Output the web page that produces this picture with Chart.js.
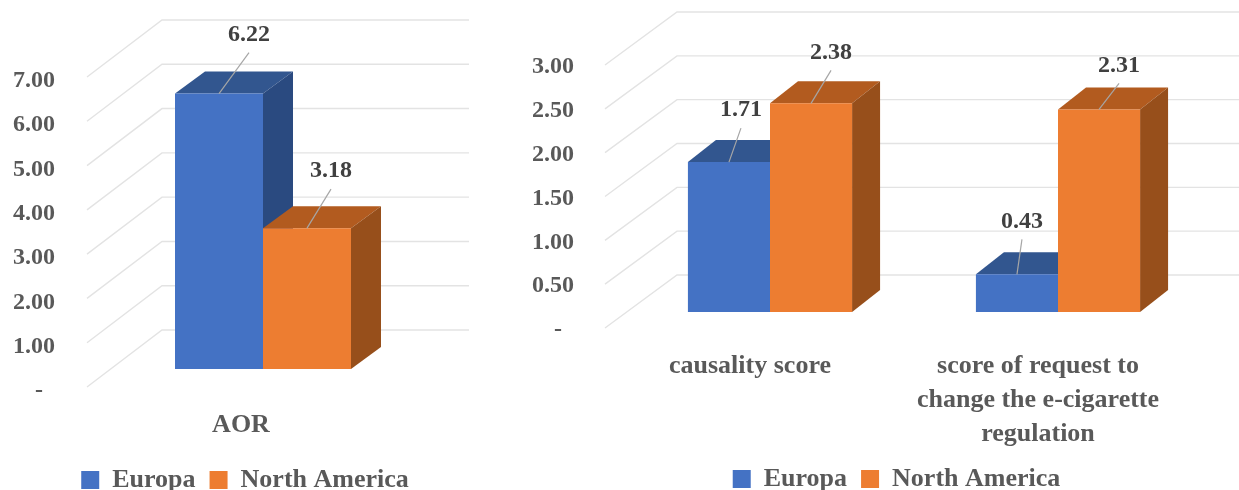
<!DOCTYPE html>
<html>
<head>
<meta charset="utf-8">
<title>AOR and scores by region</title>
<script src="https://cdn.jsdelivr.net/npm/chart.js@4"></script>
<style>
  html, body { margin: 0; background: #fff; overflow: hidden; }
  #wrap { position: relative; width: 1239px; height: 490px; overflow: hidden; }
  canvas { position: absolute; top: 0; filter: blur(0.4px); }
  #chartAor { left: 0; }
  #chartScore { left: 520px; }
</style>
</head>
<body>
<div id="wrap">
  <canvas id="chartAor" width="490" height="490"></canvas>
  <canvas id="chartScore" width="719" height="490"></canvas>
</div>
<script>
// datos
const seriesNames = ['Europa', 'North America'];

const aorLabels  = ['AOR'];
const aorEuropa  = [6.22];
const aorAmerica = [3.18];
const aorTicks   = [0, 1, 2, 3, 4, 5, 6, 7];

const scoreLabels  = ['causality score', ['score of request to', 'change the e-cigarette', 'regulation']];
const scoreEuropa  = [1.71, 0.43];
const scoreAmerica = [2.38, 2.31];
const scoreTicks   = [0, 0.5, 1, 1.5, 2, 2.5, 3];

const colores = ['#4472C4', '#ED7D31'];
const coloresTop  = ['#32568F', '#B25B1F'];
const coloresSide = ['#2A4A80', '#974F1B'];
const FONT = '"Liberation Serif", serif';
const TXT = '#595959';
const PAD_BOTTOM = -60; // deja sitio a las etiquetas del eje, la leyenda se coloca aparte

// cara superior y lateral de cada barra, y lineas de fondo
const plugin3D = {
  id: 'falso3d',
  afterLayout(chart) {
    const o = chart.options.plugins.falso3d;
    const lg = chart.legend;
    lg.left += o.legendShift; lg.right += o.legendShift;
    const h = lg.bottom - lg.top;
    lg.top = o.legendTop; lg.bottom = o.legendTop + h;
  },
  beforeDatasetsDraw(chart) {
    const o = chart.options.plugins.falso3d;
    const { ctx, chartArea: area, scales: { y } } = chart;
    ctx.save();
    // rejilla
    ctx.strokeStyle = '#E3E3E3';
    ctx.lineWidth = 1.4;
    y.ticks.forEach(t => {
      const yF = y.getPixelForValue(t.value) + o.floorDy;
      ctx.beginPath();
      ctx.moveTo(area.left + o.gridX0, yF);
      ctx.lineTo(area.left + o.gridX0 + o.gridDx, yF - o.gridDy);
      ctx.lineTo(o.gridEnd, yF - o.gridDy);
      ctx.stroke();
    });
    // caras, Europa primero para que North America quede encima
    chart.data.datasets.forEach((ds, i) => {
      chart.getDatasetMeta(i).data.forEach(b => {
        const l = b.x - b.width / 2, r = b.x + b.width / 2;
        ctx.fillStyle = coloresTop[i];
        ctx.beginPath();
        ctx.moveTo(l, b.y);
        ctx.lineTo(l + o.barDx, b.y - o.barDy);
        ctx.lineTo(r + o.barDx, b.y - o.barDy);
        ctx.lineTo(r, b.y);
        ctx.closePath();
        ctx.fill();
        ctx.fillStyle = coloresSide[i];
        ctx.beginPath();
        ctx.moveTo(r, b.y);
        ctx.lineTo(r + o.barDx, b.y - o.barDy);
        ctx.lineTo(r + o.barDx, b.base - o.barDy);
        ctx.lineTo(r, b.base);
        ctx.closePath();
        ctx.fill();
      });
    });
    ctx.restore();
  },
  afterDatasetsDraw(chart) {
    const o = chart.options.plugins.falso3d;
    const { ctx } = chart;
    ctx.save();
    ctx.font = 'bold 24px ' + FONT;
    ctx.textAlign = 'center';
    ctx.textBaseline = 'middle';
    chart.data.datasets.forEach((ds, i) => {
      chart.getDatasetMeta(i).data.forEach((b, j) => {
        const [dx, dy] = o.labelOffsets[i][j];
        ctx.strokeStyle = '#A6A6A6';
        ctx.lineWidth = 1.2;
        ctx.beginPath();
        ctx.moveTo(b.x, b.y);
        ctx.lineTo(b.x + dx, b.y + dy + 18);
        ctx.stroke();
        ctx.fillStyle = '#404040';
        ctx.fillText(ds.data[j].toFixed(2), b.x + dx, b.y + dy);
      });
    });
    ctx.restore();
  }
};

function graficaBarras3D(id, labels, europa, america, tickVals, c) {
  return new Chart(document.getElementById(id), {
    type: 'bar',
    data: {
      labels,
      datasets: [
        { label: seriesNames[0], data: europa, backgroundColor: colores[0] },
        { label: seriesNames[1], data: america, backgroundColor: colores[1] }
      ]
    },
    plugins: [plugin3D],
    options: {
      responsive: false,
      animation: false,
      layout: { padding: { left: c.padLeft, right: c.padRight, top: c.top, bottom: PAD_BOTTOM } },
      scales: {
        x: {
          offset: true,
          grid: { display: false },
          border: { display: false },
          ticks: {
            autoSkip: false, maxRotation: 0, minRotation: 0,
            padding: c.xPad, labelOffset: c.xLabelOffset, color: TXT,
            font: { family: FONT, size: 26, weight: 'bold', lineHeight: c.lineH }
          },
          afterFit(s) {
            s.paddingLeft = 0; s.paddingRight = 0; s.paddingTop = 0; s.paddingBottom = 0;
            s.height = 490 - PAD_BOTTOM - c.base - s.chart.legend.height;
          }
        },
        y: {
          min: 0,
          max: tickVals[tickVals.length - 1],
          grid: { display: false, drawTicks: false },
          border: { display: false },
          afterBuildTicks(s) { s.ticks = tickVals.map(v => ({ value: v })); },
          afterFit(s) { s.width = c.yWidth; s.paddingTop = 0; s.paddingBottom = 0; },
          ticks: {
            padding: c.yPad, labelOffset: c.yLabelOffset, color: TXT,
            font: { family: FONT, size: 24, weight: 'bold' },
            callback: v => (v === 0 ? '-  ' : v.toFixed(2))
          }
        }
      },
      datasets: { bar: { barPercentage: 1, categoryPercentage: c.catPct } },
      plugins: {
        tooltip: { enabled: false },
        legend: {
          position: 'bottom',
          labels: { boxWidth: 18, boxHeight: 18, padding: 14, color: TXT, font: { family: FONT, size: 26, weight: 'bold' } }
        },
        falso3d: c.d3
      }
    }
  });
}

graficaBarras3D('chartAor', aorLabels, aorEuropa, aorAmerica, aorTicks, {
  padLeft: 13, padRight: 51, top: 59, base: 369, yWidth: 74, yPad: 32, yLabelOffset: 22,
  xPad: 32, xLabelOffset: -22, lineH: 1.29, catPct: 0.5,
  d3: {
    floorDy: 18, gridX0: 0, gridDx: 75, gridDy: 57, gridEnd: 469, barDx: 30, barDy: 22,
    legendShift: 19, legendTop: 453,
    labelOffsets: [[[30, -59]], [[24, -57]]]
  }
});

graficaBarras3D('chartScore', scoreLabels, scoreEuropa, scoreAmerica, scoreTicks, {
  padLeft: 11, padRight: 37, top: 49, base: 312, yWidth: 95, yPad: 52, yLabelOffset: 18,
  xPad: 30, xLabelOffset: -20, lineH: 1.29, catPct: 0.57,
  d3: {
    floorDy: 16, gridX0: -21, gridDx: 72, gridDy: 53, gridEnd: 719, barDx: 28, barDy: 22,
    legendShift: 30, legendTop: 452,
    labelOffsets: [[[12, -52], [5, -53]], [[20, -51], [20, -44]]]
  }
});
</script>
</body>
</html>
